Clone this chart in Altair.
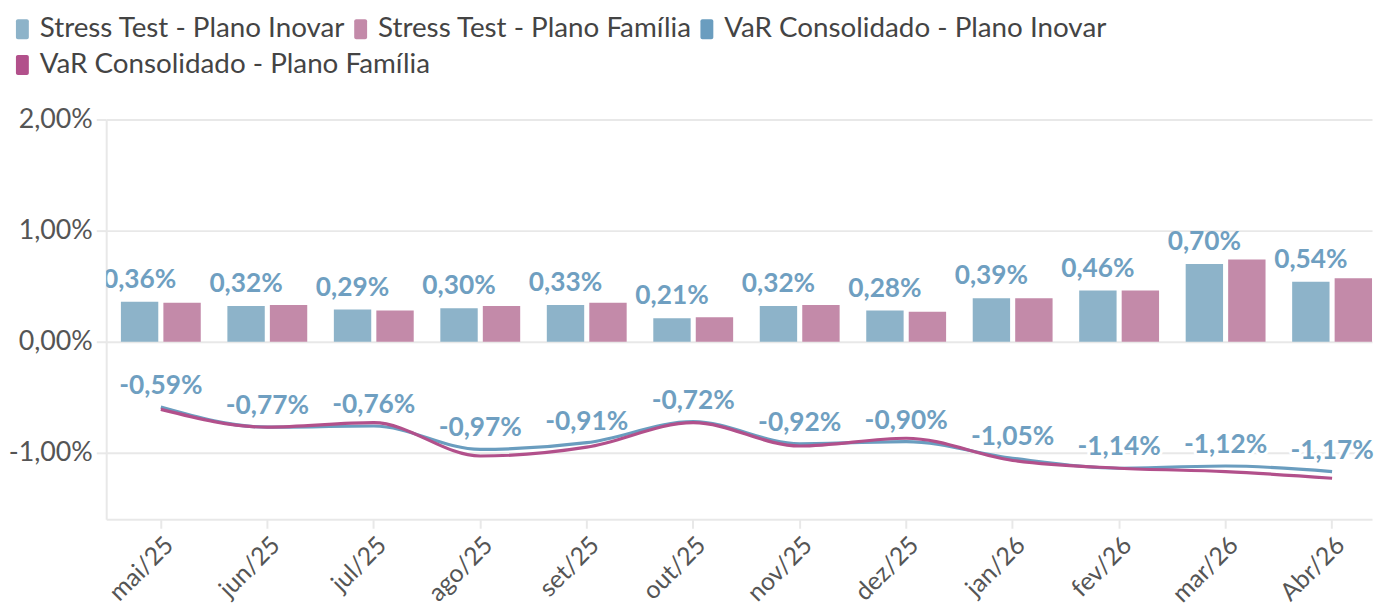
import altair as alt
import pandas as pd

months = ["mai/25", "jun/25", "jul/25", "ago/25", "set/25", "out/25",
          "nov/25", "dez/25", "jan/26", "fev/26", "mar/26", "Abr/26"]
stress_inovar = [0.36, 0.32, 0.29, 0.30, 0.33, 0.21, 0.32, 0.28, 0.39, 0.46, 0.70, 0.54]
stress_familia = [0.35, 0.33, 0.28, 0.32, 0.35, 0.22, 0.33, 0.27, 0.39, 0.46, 0.74, 0.57]
var_inovar = [-0.59, -0.77, -0.76, -0.97, -0.91, -0.72, -0.92, -0.90, -1.05, -1.14, -1.12, -1.17]
var_familia = [-0.61, -0.77, -0.73, -1.03, -0.95, -0.73, -0.94, -0.87, -1.07, -1.14, -1.17, -1.23]
series = ["Stress Test - Plano Inovar", "Stress Test - Plano Família",
          "VaR Consolidado - Plano Inovar", "VaR Consolidado - Plano Família"]
planos = ["Inovar", "Família"]
colors = ["#8db3c9", "#c38aa9", "#6a9dbf", "#b2508b"]
y_ticks = [-1.0, 0.0, 1.0, 2.0]
y_domain = [-1.6, 2.0]


def fmt(v):
    return f"{v:.2f}".replace(".", ",") + "%"


stress_rows = []
var_rows = []
for i, m in enumerate(months):
    stress_rows.append(dict(mes=m, serie=series[0], plano=planos[0], valor=stress_inovar[i], rot=fmt(stress_inovar[i])))
    stress_rows.append(dict(mes=m, serie=series[1], plano=planos[1], valor=stress_familia[i], rot=fmt(stress_familia[i])))
    var_rows.append(dict(mes=m, serie=series[2], plano=planos[0], valor=var_inovar[i], rot=fmt(var_inovar[i])))
    var_rows.append(dict(mes=m, serie=series[3], plano=planos[1], valor=var_familia[i], rot=fmt(var_familia[i])))
stress_df = pd.DataFrame(stress_rows)
var_df = pd.DataFrame(var_rows)
var_inovar_df = var_df[var_df["plano"] == planos[0]]
var_familia_df = var_df[var_df["plano"] == planos[1]]

FONT = "Lato"
LABEL_BLUE = "#6f9fc1"
GRID = "#e8e8e8"
VAL_SIZE = 26.5
SYMBOL = ("M-1.6,-2H0.2A0.4,0.4 0 0 1 0.6,-1.6V1.6A0.4,0.4 0 0 1 0.2,2H-1.6"
          "A0.4,0.4 0 0 1 -2.0,1.6V-1.6A0.4,0.4 0 0 1 -1.6,-2Z")

cscale = alt.Scale(domain=series[:3], range=colors[:3])
sscale = alt.Scale(domain=series[3:], range=colors[3:])
yscale = alt.Scale(domain=y_domain, nice=False, zero=False)


def xscale():
    return alt.Scale(type="band", paddingInner=0.25, paddingOuter=0.069, align=1)


xaxis = alt.Axis(labelAngle=-45, labelFontSize=25, labelColor="#555555", labelFont=FONT,
                 domainColor=GRID, domainWidth=2, tickColor=GRID, tickWidth=2, tickSize=9,
                 labelPadding=4, grid=False, title=None)
yaxis = alt.Axis(values=y_ticks,
                 labelExpr="(datum.value < 0 ? '-' : '') + replace(format(abs(datum.value), '.2f'), '.', ',') + '%'",
                 labelFontSize=27, labelColor="#555555", labelFont=FONT,
                 grid=True, gridColor=GRID, gridWidth=2,
                 domainColor=GRID, domainWidth=2, tickColor=GRID, tickWidth=2, tickSize=10,
                 labelPadding=4, title=None)

legend_common = dict(title=None, orient="none", legendX=-95,
                     direction="horizontal", symbolType=SYMBOL,
                     symbolSize=100, symbolStrokeWidth=0,
                     labelFontSize=28, labelFont=FONT, labelColor="#444444", labelOffset=0,
                     columnPadding=4, labelLimit=700)
legend_a = alt.Legend(legendY=-105, columns=3, **legend_common)
legend_b = alt.Legend(legendY=-69, columns=1, symbolFillColor=colors[3], **legend_common)


def x_enc(axis=None):
    if axis is None:
        return alt.X("mes:N", sort=months, scale=xscale())
    return alt.X("mes:N", sort=months, scale=xscale(), axis=axis)


off_enc = alt.XOffset("plano:N", sort=planos, scale=alt.Scale(paddingInner=0.12, paddingOuter=0))

bars = alt.Chart(stress_df).mark_bar().encode(
    x=x_enc(xaxis),
    xOffset=off_enc,
    y=alt.Y("valor:Q", scale=yscale, axis=yaxis),
    color=alt.Color("serie:N", scale=cscale, legend=legend_a),
)

bar_labels = alt.Chart(stress_df).transform_filter(
    alt.datum.plano == planos[0]
).mark_text(font=FONT, fontSize=VAL_SIZE, fontWeight="bold", color=LABEL_BLUE,
            baseline="alphabetic", dy=-14, clip=True).encode(
    x=x_enc(),
    xOffset=alt.XOffset("plano:N", sort=planos),
    y=alt.Y("valor:Q"),
    text="rot:N",
)

line_inovar = alt.Chart(var_inovar_df).mark_line(interpolate="monotone", strokeWidth=3.2).encode(
    x=x_enc(),
    y=alt.Y("valor:Q"),
    color=alt.Color("serie:N", scale=cscale, legend=legend_a),
)

line_familia = alt.Chart(var_familia_df).mark_line(interpolate="monotone", strokeWidth=3.2).encode(
    x=x_enc(),
    y=alt.Y("valor:Q"),
    stroke=alt.Stroke("serie:N", scale=sscale, legend=legend_b),
)

line_halo = alt.Chart(var_inovar_df).mark_text(
    font=FONT, fontSize=VAL_SIZE, fontWeight="bold", color="white", stroke="white",
    strokeWidth=6, strokeJoin="round", baseline="alphabetic", dy=-13).encode(
    x=x_enc(),
    y=alt.Y("valor:Q"),
    text="rot:N",
)

line_labels = alt.Chart(var_inovar_df).mark_text(
    font=FONT, fontSize=VAL_SIZE, fontWeight="bold", color=LABEL_BLUE,
    baseline="alphabetic", dy=-13).encode(
    x=x_enc(),
    y=alt.Y("valor:Q"),
    text="rot:N",
)

chart = alt.layer(bars, bar_labels, line_halo, line_inovar, line_familia, line_labels).properties(
    width=1276, height=403,
    padding={"left": 0, "top": 5, "right": 0, "bottom": 0},
    background="white",
).configure_view(stroke=None)

chart.save("out.html", embed_options={"renderer": "svg", "actions": False})
